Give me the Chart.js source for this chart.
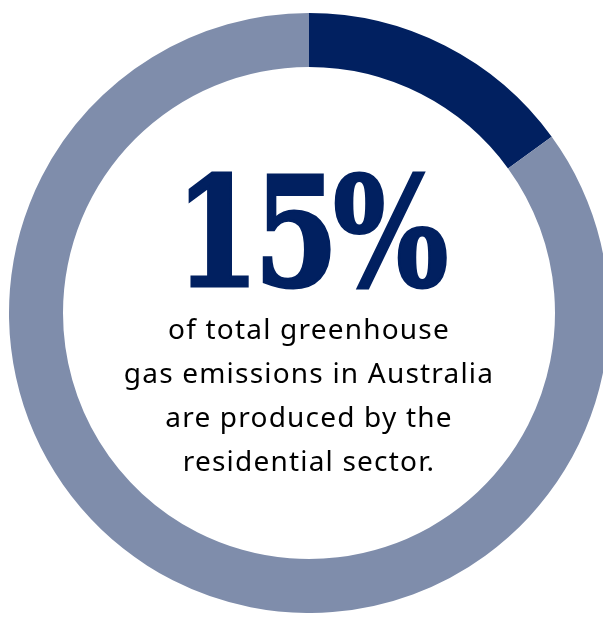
<!DOCTYPE html>
<html>
<head>
<meta charset="utf-8">
<script src="https://cdn.jsdelivr.net/npm/chart.js@4/dist/chart.umd.min.js"></script>
<style>
  html, body { margin: 0; padding: 0; background: #fff; overflow: hidden; width: 603px; height: 617px; }
  #wrap { position: absolute; left: 9px; top: 13px; width: 600px; height: 600px; }
  .big {
    position: absolute; left: 0; width: 618px; top: 153px; text-align: center;
    font-family: 'DejaVu Serif', serif; font-weight: bold; font-size: 152px; line-height: 160px;
    color: #012060; letter-spacing: -7px; transform: scaleX(0.8); transform-origin: 309px 0;
    -webkit-text-stroke: 3px #012060;
  }
  .caption {
    position: absolute; left: 0; width: 618px; top: 306px; text-align: center;
    font-family: 'Noto Sans', sans-serif; font-size: 28px; line-height: 44px; color: #000;
    letter-spacing: 1.2px;
  }
</style>
</head>
<body>
<div id="wrap"><canvas id="ring"></canvas></div>
<div class="big" id="bigValue"></div>
<div class="caption" id="caption"></div>
<script>
// Residential share of Australia's greenhouse gas emissions
const labels = ['Residential sector', 'Other sectors'];
const shares = [15, 85];
const ringColors = ['#012060', '#7f8dab'];
const captionLines = [
    'of total greenhouse',
    'gas emissions in Australia',
    'are produced by the',
    'residential sector.'
];

document.getElementById('bigValue').textContent = shares[0] + '%';
document.getElementById('caption').innerHTML = captionLines.join('<br>');

new Chart(document.getElementById('ring'), {
    type: 'doughnut',
    data: {
        labels: labels,
        datasets: [{
            data: shares,
            backgroundColor: ringColors,
            borderWidth: 0,
            hoverOffset: 0
        }]
    },
    options: {
        responsive: true,
        maintainAspectRatio: false,
        animation: false,
        cutout: '82%',
        layout: { padding: 0 },
        plugins: {
            legend: { display: false },
            tooltip: { enabled: false }
        }
    }
});
</script>
</body>
</html>
